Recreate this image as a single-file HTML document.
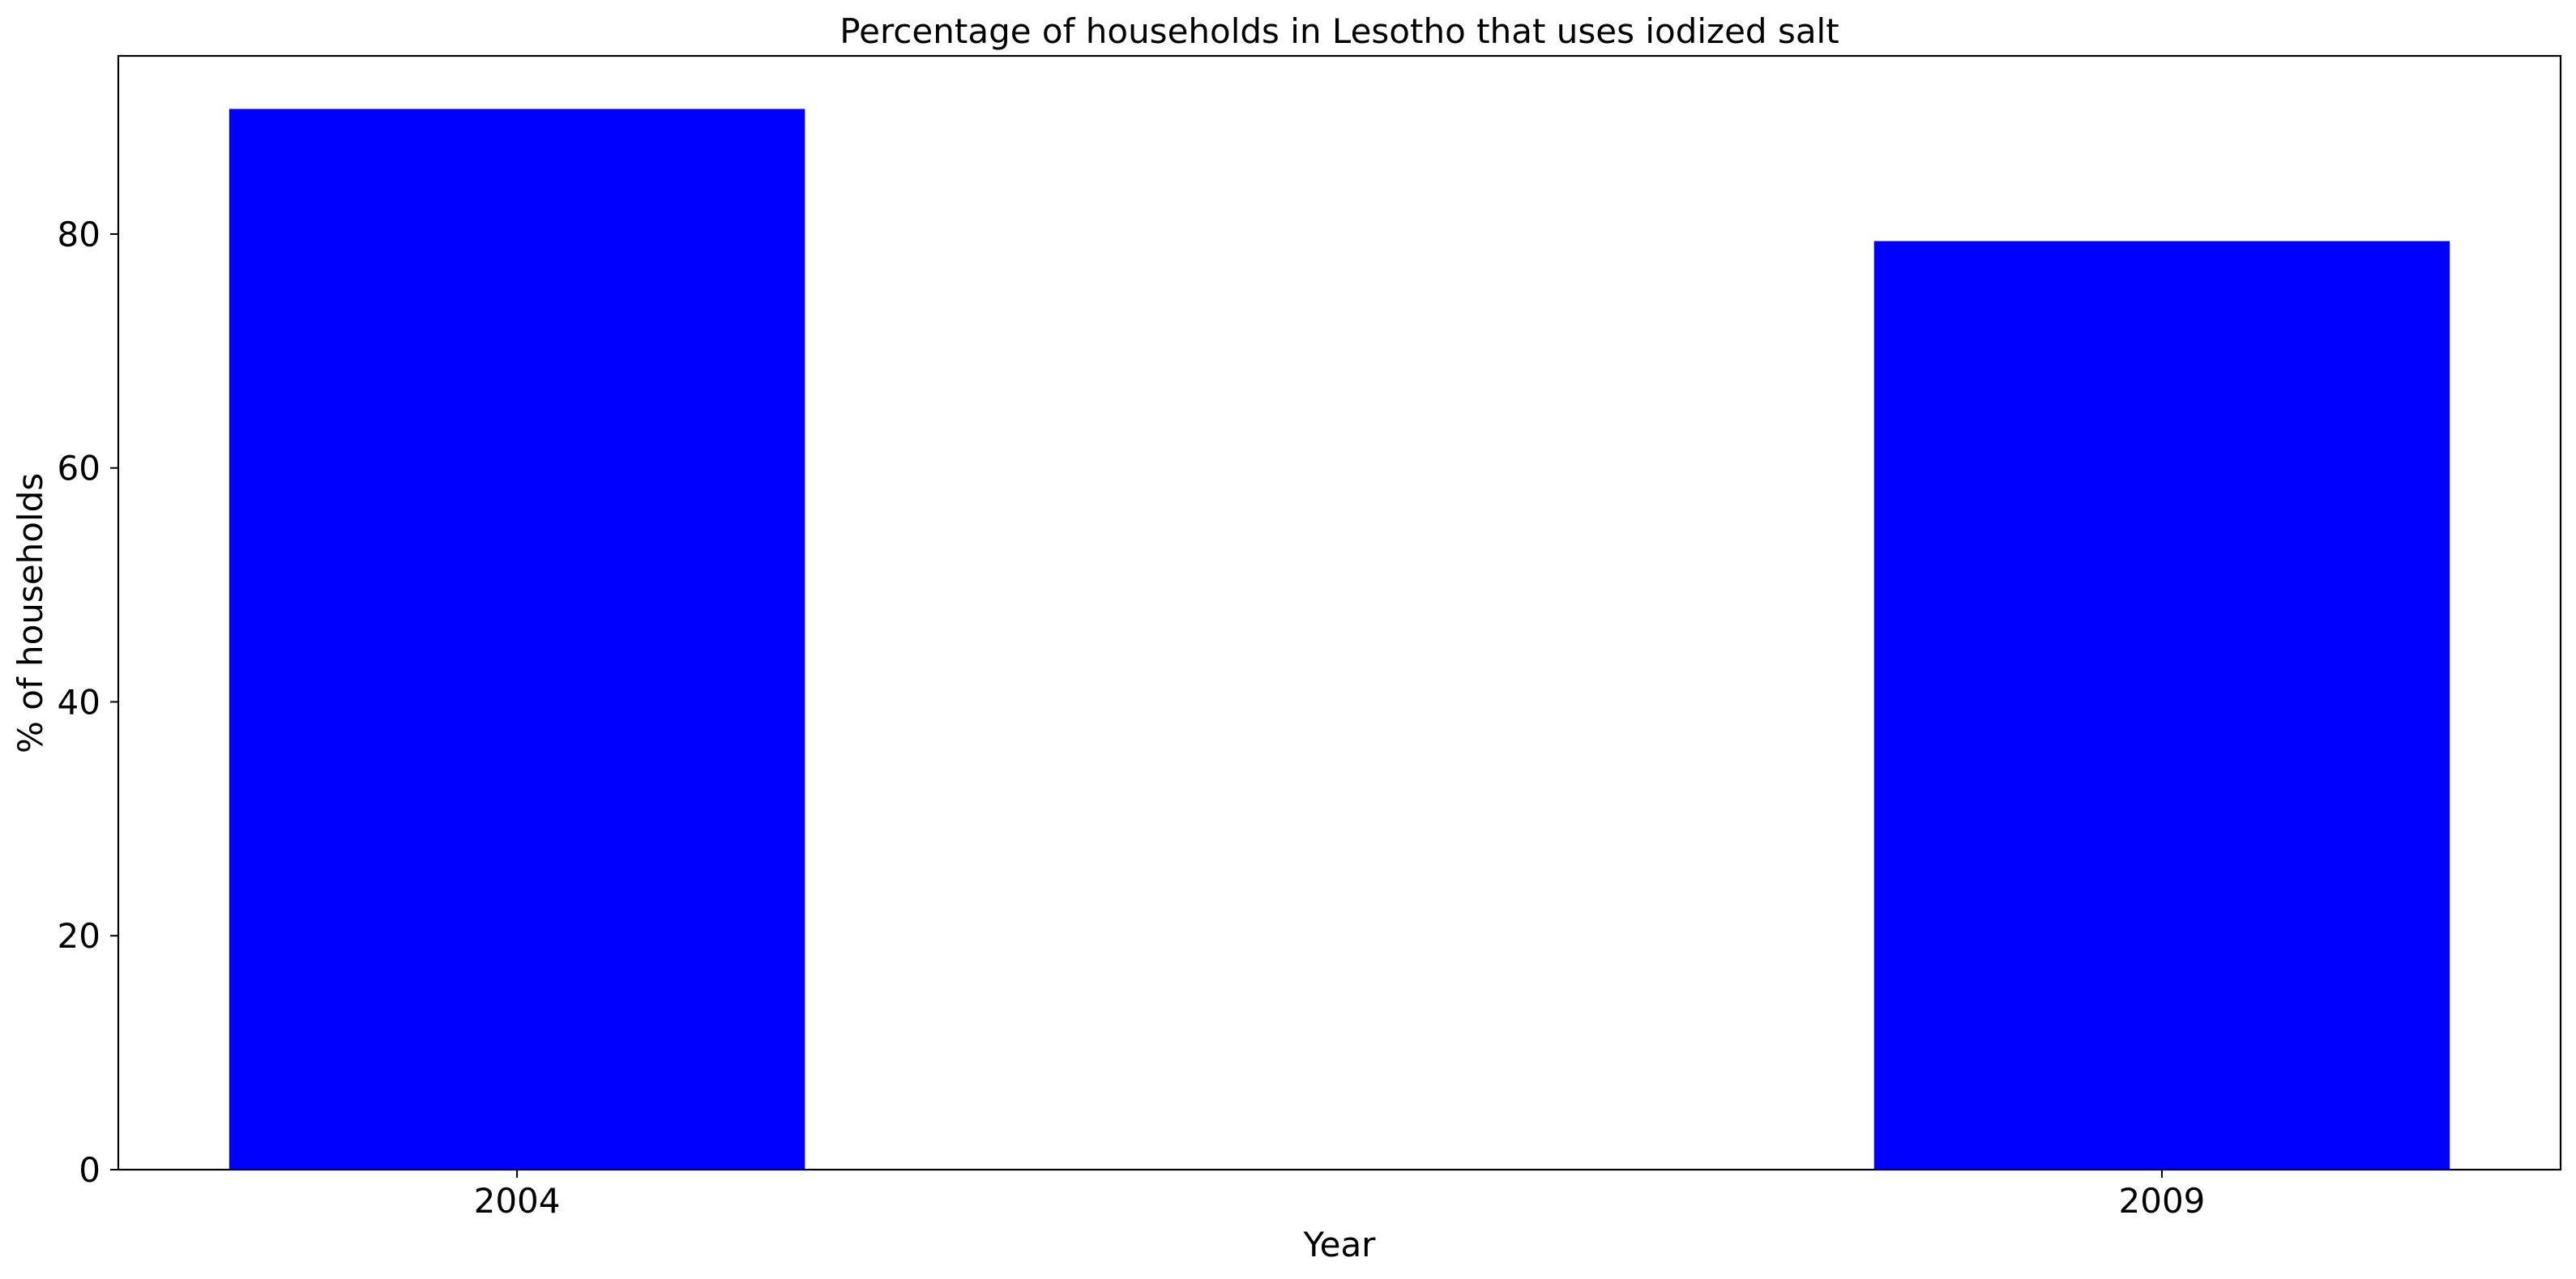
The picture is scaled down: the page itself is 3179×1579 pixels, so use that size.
<!DOCTYPE html>
<html><head><meta charset="utf-8"><style>
html,body{margin:0;padding:0;background:#fff;}
svg{display:block;font-family:"DejaVu Sans","Liberation Sans",sans-serif;}
</style></head><body>
<svg id="chart" width="3179" height="1579" viewBox="0 0 3179 1579" xmlns="http://www.w3.org/2000/svg">
<rect x="0" y="0" width="3179" height="1579" fill="#fff"/>
<text x="1653" y="53" font-size="42" text-anchor="middle">Percentage of households in Lesotho that uses iodized salt</text>
<g id="bars"></g>
<g id="yticks"></g>
<g id="xticks"></g>
<rect x="146" y="69" width="3014" height="1375" fill="none" stroke="#000" stroke-width="2.2"/>
<text x="1653" y="1551" font-size="42" text-anchor="middle">Year</text>
<text x="0" y="0" font-size="42" text-anchor="middle" transform="translate(52,757) rotate(-90)">% of households</text>
</svg>
<script>
const categories = ["2004", "2009"];
const values = [90.7, 79.4];
const yTicks = [0, 20, 40, 60, 80];
const yTickLabels = ["0", "20", "40", "60", "80"];

const NS = "http://www.w3.org/2000/svg";
const plotL = 146, plotR = 3160, plotT = 69, plotB = 1444;
const xMin = -0.2424, xMax = 1.2424, barW = 0.35;
const yMax = Math.max(...values) * 1.05;
function xScale(v){ return plotL + (v - xMin) / (xMax - xMin) * (plotR - plotL); }
function yScale(v){ return plotB - v / yMax * (plotB - plotT); }

const bars = document.getElementById('bars');
const xt = document.getElementById('xticks');
const yt = document.getElementById('yticks');

categories.forEach((c, i) => {
  const r = document.createElementNS(NS, 'rect');
  const x0 = xScale(i - barW / 2), x1 = xScale(i + barW / 2);
  r.setAttribute('x', x0);
  r.setAttribute('y', yScale(values[i]));
  r.setAttribute('width', x1 - x0);
  r.setAttribute('height', plotB - yScale(values[i]));
  r.setAttribute('fill', '#0000ff');
  
  
  bars.appendChild(r);

  const t = document.createElementNS(NS, 'line');
  t.setAttribute('x1', xScale(i)); t.setAttribute('x2', xScale(i));
  t.setAttribute('y1', plotB); t.setAttribute('y2', plotB + 10);
  t.setAttribute('stroke', '#000'); t.setAttribute('stroke-width', '2');
  
  
  xt.appendChild(t);

  const l = document.createElementNS(NS, 'text');
  l.setAttribute('x', xScale(i)); l.setAttribute('y', 1497);
  l.setAttribute('font-size', '42'); l.setAttribute('text-anchor', 'middle');
  l.textContent = c;
  
  
  xt.appendChild(l);
});

yTicks.forEach((v, i) => {
  const y = yScale(v);
  const t = document.createElementNS(NS, 'line');
  t.setAttribute('x1', plotL - 10); t.setAttribute('x2', plotL);
  t.setAttribute('y1', y); t.setAttribute('y2', y);
  t.setAttribute('stroke', '#000'); t.setAttribute('stroke-width', '2');
  
  
  yt.appendChild(t);

  const l = document.createElementNS(NS, 'text');
  l.setAttribute('x', 124); l.setAttribute('y', y + 15);
  l.setAttribute('font-size', '42'); l.setAttribute('text-anchor', 'end');
  l.textContent = yTickLabels[i];
  
  
  yt.appendChild(l);
});
</script>
</body></html>
